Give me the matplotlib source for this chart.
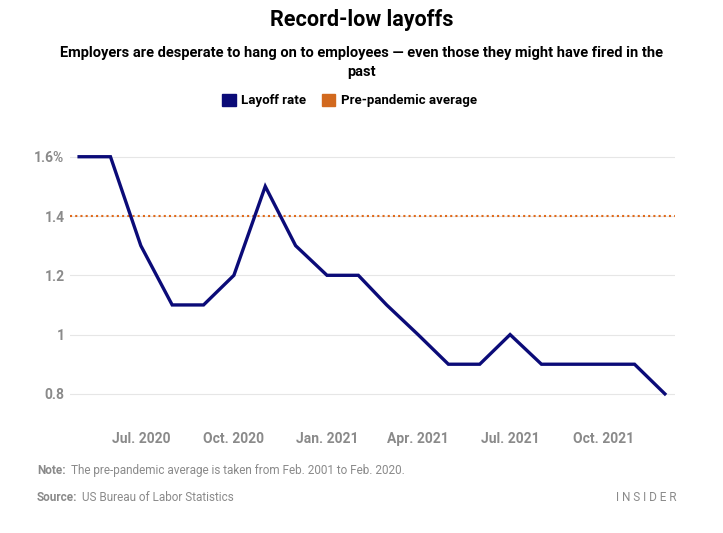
import matplotlib
matplotlib.use("Agg")
import matplotlib.pyplot as plt
import pandas as pd

months = pd.date_range("2020-05-01", "2021-12-01", freq="MS")
layoff_rate = [1.6, 1.6, 1.3, 1.1, 1.1, 1.2, 1.5, 1.3, 1.2, 1.2,
               1.1, 1.0, 0.9, 0.9, 1.0, 0.9, 0.9, 0.9, 0.9, 0.8]
pre_pandemic_avg = 1.4
xtick_dates = pd.to_datetime(["2020-07-01", "2020-10-01", "2021-01-01",
                              "2021-04-01", "2021-07-01", "2021-10-01"])
xtick_labels = ["Jul. 2020", "Oct. 2020", "Jan. 2021", "Apr. 2021", "Jul. 2021", "Oct. 2021"]
yticks = [0.8, 1.0, 1.2, 1.4, 1.6]
ytick_labels = ["0.8", "1", "1.2", "1.4", "1.6%"]

plt.rcParams["font.family"] = ["Roboto", "DejaVu Sans"]
fig = plt.figure(figsize=(7.23, 5.33), dpi=100)
ax = fig.add_axes([70 / 723, 0.231, 605 / 723, 0.525])

ax.plot(months, layoff_rate, color="#0b0b78", lw=2.4, solid_joinstyle="miter", zorder=3)
ax.axhline(pre_pandemic_avg, color="#e06a1b", lw=1.5, ls=(0, (1, 1.5)), zorder=2)

ax.set_xlim(months[0] - pd.Timedelta(days=9), months[-1] + pd.Timedelta(days=10))
ax.set_ylim(0.746, 1.69)
ax.set_yticks(yticks)
ax.set_yticklabels(ytick_labels)
ax.set_xticks(xtick_dates)
ax.set_xticklabels(xtick_labels)
ax.grid(axis="y", color="#e6e6e6", lw=0.8)
ax.set_axisbelow(True)
for s in ax.spines.values():
    s.set_visible(False)
ax.tick_params(length=0, colors="#8a8a8a", labelsize=10)
ax.tick_params(axis="x", pad=16)
ax.tick_params(axis="y", pad=4)
for lab in ax.get_yticklabels() + ax.get_xticklabels():
    lab.set_fontweight("bold")

fig.text(0.5, 0.963, "Record-low layoffs", ha="center", va="center",
         fontsize=15.5, fontweight="bold")
fig.text(0.5, 0.9, "Employers are desperate to hang on to employees — even those they might have fired in the",
         ha="center", va="center", fontsize=10.5, fontweight="bold")
fig.text(0.5, 0.865, "past", ha="center", va="center", fontsize=10.5, fontweight="bold")

# legend
fig.patches.append(plt.Rectangle((0.307, 0.802), 0.019, 0.022, transform=fig.transFigure,
                                 color="#0b0b78"))
fig.text(0.333, 0.812, "Layoff rate", va="center", fontsize=9.5, fontweight="bold")
fig.patches.append(plt.Rectangle((0.445, 0.802), 0.019, 0.022, transform=fig.transFigure,
                                 color="#d2691e"))
fig.text(0.471, 0.812, "Pre-pandemic average", va="center", fontsize=9.5, fontweight="bold")

fig.text(0.051, 0.117, "Note:", fontsize=8.5, fontweight="bold", color="#8a8a8a", va="center")
fig.text(0.098, 0.117, "The pre-pandemic average is taken from Feb. 2001 to Feb. 2020.",
         fontsize=8.5, color="#8a8a8a", va="center")
fig.text(0.051, 0.067, "Source:", fontsize=8.5, fontweight="bold", color="#8a8a8a", va="center")
fig.text(0.113, 0.067, "US Bureau of Labor Statistics", fontsize=8.5, color="#8a8a8a", va="center")
fig.text(0.936, 0.067, "I N S I D E R", fontsize=8.5, color="#8a8a8a", va="center", ha="right")

fig.savefig("out.png", dpi=100)
